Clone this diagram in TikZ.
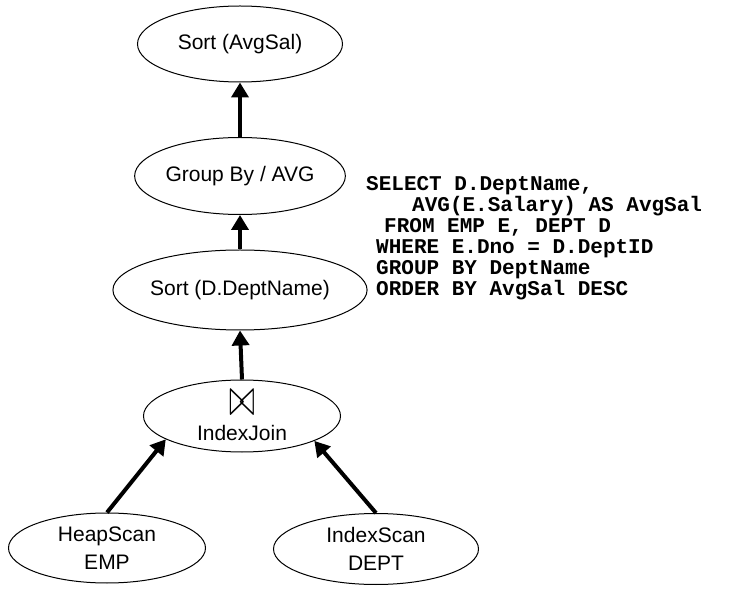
\documentclass[tikz,border=0pt]{standalone}
\usepackage{amsmath}
\usepackage{amssymb}
\usepackage{fontspec}
\newfontfamily\opfont{Liberation Sans}
\newfontfamily\sqlfont{Liberation Mono}
\usetikzlibrary{arrows.meta,shapes.geometric}

\tikzset{
  op/.style = {ellipse, draw = black, line width = 1pt, inner sep = 0pt,
               align = center, font = \opfont\fontsize{21}{28}\selectfont},
  flow/.style = {line width = 4pt, -{Triangle[width=17pt,length=15pt]}},
  sql/.style = {anchor = base west, inner sep = 0pt,
                font = \sqlfont\bfseries\fontsize{21}{21}\selectfont}
}

\begin{document}
\begin{tikzpicture}[x = 1pt, y = 1pt]
\useasboundingbox (0,0) rectangle (752,592);

% plan operators
\node[op, minimum width = 205pt, minimum height = 76pt] (sortsal) at (240,548) {Sort (AvgSal)};
\node[op, minimum width = 200pt, minimum height = 77pt] (groupby) at (240,416) {Group By / AVG};
\node[op, minimum width = 204pt, minimum height = 80pt] (sortname) at (240,302) {Sort (D.DeptName)};
\node[op, minimum width = 197pt, minimum height = 72pt] (join) at (242,176)
  {\resizebox{26pt}{25pt}{$\bowtie$}\\[-3pt]IndexJoin};
\node[op, minimum width = 197pt, minimum height = 70pt] (heapemp) at (107,44) {HeapScan\\EMP};
\node[op, minimum width = 205pt, minimum height = 71pt] (idxdept) at (376,43) {IndexScan\\DEPT};

\draw[flow] (heapemp.north) -- (join.197);
\draw[flow] (idxdept.north) -- (join.-19);
\draw[flow] (join.north) -- (sortname.south);
\draw[flow] (sortname.north) -- (groupby.south);
\draw[flow] (groupby.north) -- (sortsal.south);

% query text
\node[sql] (sql1) at (366,401) {SELECT D.DeptName,};
\node[sql] (sql2) at (412,380) {AVG(E.Salary) AS AvgSal};
\node[sql] (sql3) at (384,359) {FROM EMP E, DEPT D};
\node[sql] (sql4) at (376,338) {WHERE E.Dno = D.DeptID};
\node[sql] (sql5) at (376,317) {GROUP BY DeptName};
\node[sql] (sql6) at (376,296) {ORDER BY AvgSal DESC};

\end{tikzpicture}
\end{document}
